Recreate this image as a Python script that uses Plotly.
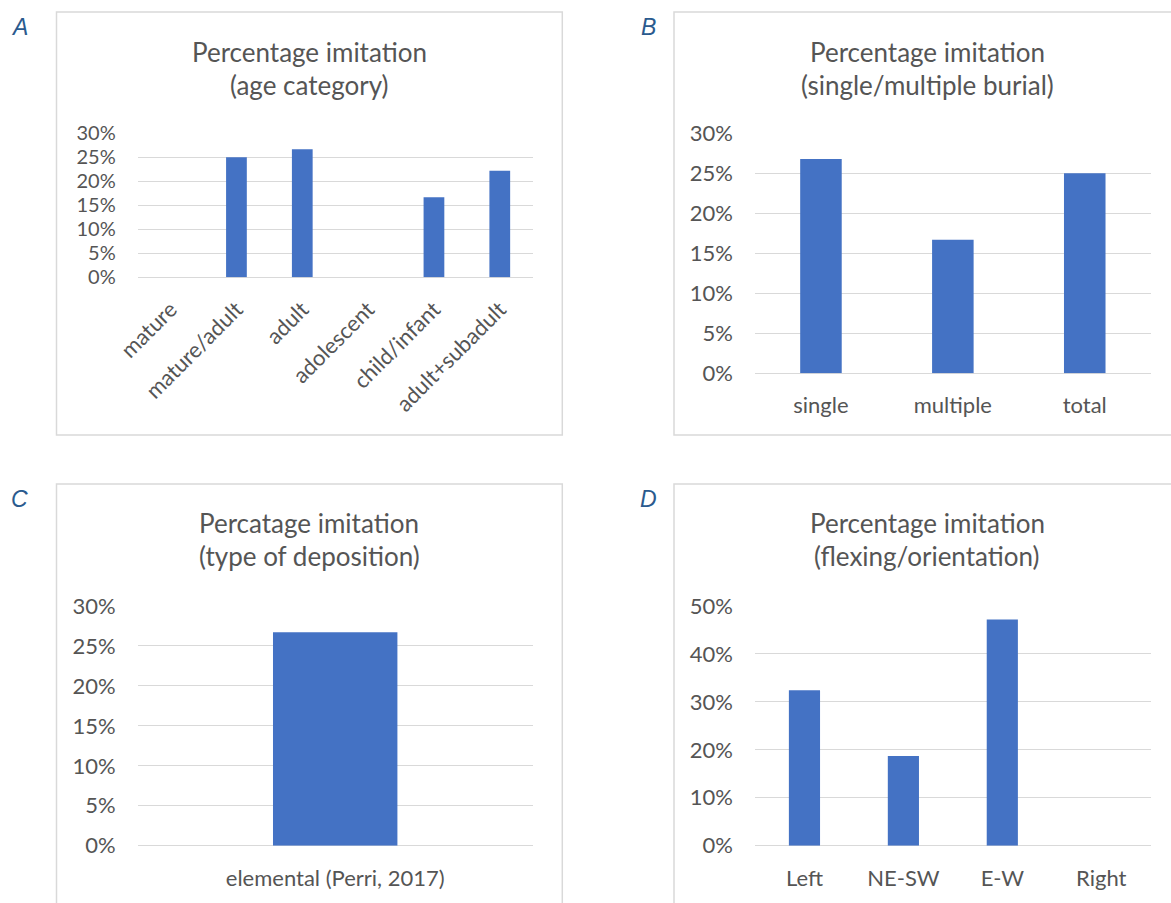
import plotly.graph_objects as go

W, H = 1171, 903

# ---- data ----
age_categories = ["mature", "mature/adult", "adult", "adolescent", "child/infant", "adult+subadult"]
age_values = [0, 25.0, 26.7, 0, 16.7, 22.2]

burial_categories = ["single", "multiple", "total"]
burial_values = [26.8, 16.7, 25.0]

deposition_categories = ["elemental (Perri, 2017)"]
deposition_values = [26.7]

orientation_categories = ["Left", "NE-SW", "E-W", "Right"]
orientation_values = [32.4, 18.7, 47.2, 0]

titles = [
    ("Percentage imitation", "(age category)"),
    ("Percentage imitation", "(single/multiple burial)"),
    ("Percatage imitation", "(type of deposition)"),
    ("Percentage imitation", "(flexing/orientation)"),
]
panel_letters = ["A", "B", "C", "D"]

# ---- styling ----
BAR = "#4472C4"
GRID = "#D9D9D9"
TEXT = "#555555"
FONT = "Lato"
TICK_SIZE = 22
TITLE_SIZE = 26


def px(x):
    return x / W


def py(y):
    return 1 - y / H


fig = go.Figure()

# layout of each panel in pixels:
# categories, values, plot x-span, plot y-span (top, bottom), ymax, dtick,
# y tick size, title centre x, first title line y, panel letter position
panels = [
    (age_categories, age_values, (137.7, 532.7), (133.3, 277.3), 30, 5, 20, 309, 52, (19.5, 27)),
    (burial_categories, burial_values, (755, 1150.7), (133.3, 373.3), 30, 5, TICK_SIZE, 927, 52, (648, 27)),
    (deposition_categories, deposition_values, (137.7, 532.7), (606, 845.7), 30, 5, TICK_SIZE, 309, 523, (19.5, 499)),
    (orientation_categories, orientation_values, (755, 1150.7), (606, 845.7), 50, 10, TICK_SIZE, 927, 523, (648, 499)),
]

annotations = []
for i, (cats, vals, (x0, x1), (yt, yb), ymax, dt, ysize, tx, ty, (lx, ly)) in enumerate(panels):
    n = "" if i == 0 else str(i + 1)
    fig.add_trace(go.Bar(
        x=cats, y=vals, marker=dict(color=BAR, line=dict(width=0)),
        xaxis="x" + n, yaxis="y" + n, showlegend=False,
        hovertemplate="%{x}: %{y}%<extra></extra>",
    ))
    xa = dict(
        domain=[px(x0), px(x1)], anchor="y" + n, type="category",
        showgrid=False, showline=False, zeroline=False, ticks="",
        tickfont=dict(family=FONT, size=TICK_SIZE, color=TEXT),
        ticklabelstandoff=17, fixedrange=True, automargin=False,
    )
    if i == 0:
        xa["tickangle"] = -45
        xa["ticklabelstandoff"] = 14
    ya = dict(
        domain=[py(yb), py(yt)], anchor="x" + n, range=[0, ymax],
        dtick=dt, tick0=0, ticksuffix="%",
        showgrid=True, gridcolor=GRID, gridwidth=1.3,
        zeroline=True, zerolinecolor=GRID, zerolinewidth=1.3,
        showline=False, ticks="",
        tickfont=dict(family=FONT, size=ysize, color=TEXT),
        ticklabelstandoff=21, fixedrange=True, automargin=False,
    )
    fig.update_layout(**{"xaxis" + n: xa, "yaxis" + n: ya})

    for k, line in enumerate(titles[i]):
        annotations.append(dict(
            x=px(tx), y=py(ty + 33 * k), xref="paper", yref="paper", text=line,
            showarrow=False, xanchor="center", yanchor="middle",
            font=dict(family=FONT, size=TITLE_SIZE, color=TEXT),
        ))
    annotations.append(dict(
        x=px(lx), y=py(ly), xref="paper", yref="paper",
        text="<i>" + panel_letters[i] + "</i>",
        showarrow=False, xanchor="center", yanchor="middle",
        font=dict(family="Liberation Sans", size=23, color="#2A5A8E"),
    ))

# panel frames (x0, y0, x1, y1) in pixels
frames = [(56.5, 12, 562.3, 435), (674, 12, 1185, 435), (56.5, 484, 562.3, 915), (674, 484, 1185, 915)]
shapes = [
    dict(type="rect", xref="paper", yref="paper",
         x0=px(a), x1=px(c), y0=py(d), y1=py(b),
         line=dict(color=GRID, width=1.5), fillcolor="rgba(0,0,0,0)", layer="below")
    for a, b, c, d in frames
]

fig.update_layout(
    width=W, height=H, margin=dict(l=0, r=0, t=0, b=0, autoexpand=False),
    paper_bgcolor="white", plot_bgcolor="white",
    bargap=0.685, annotations=annotations, shapes=shapes,
    font=dict(family=FONT, color=TEXT),
)

fig.write_html("out.html")
